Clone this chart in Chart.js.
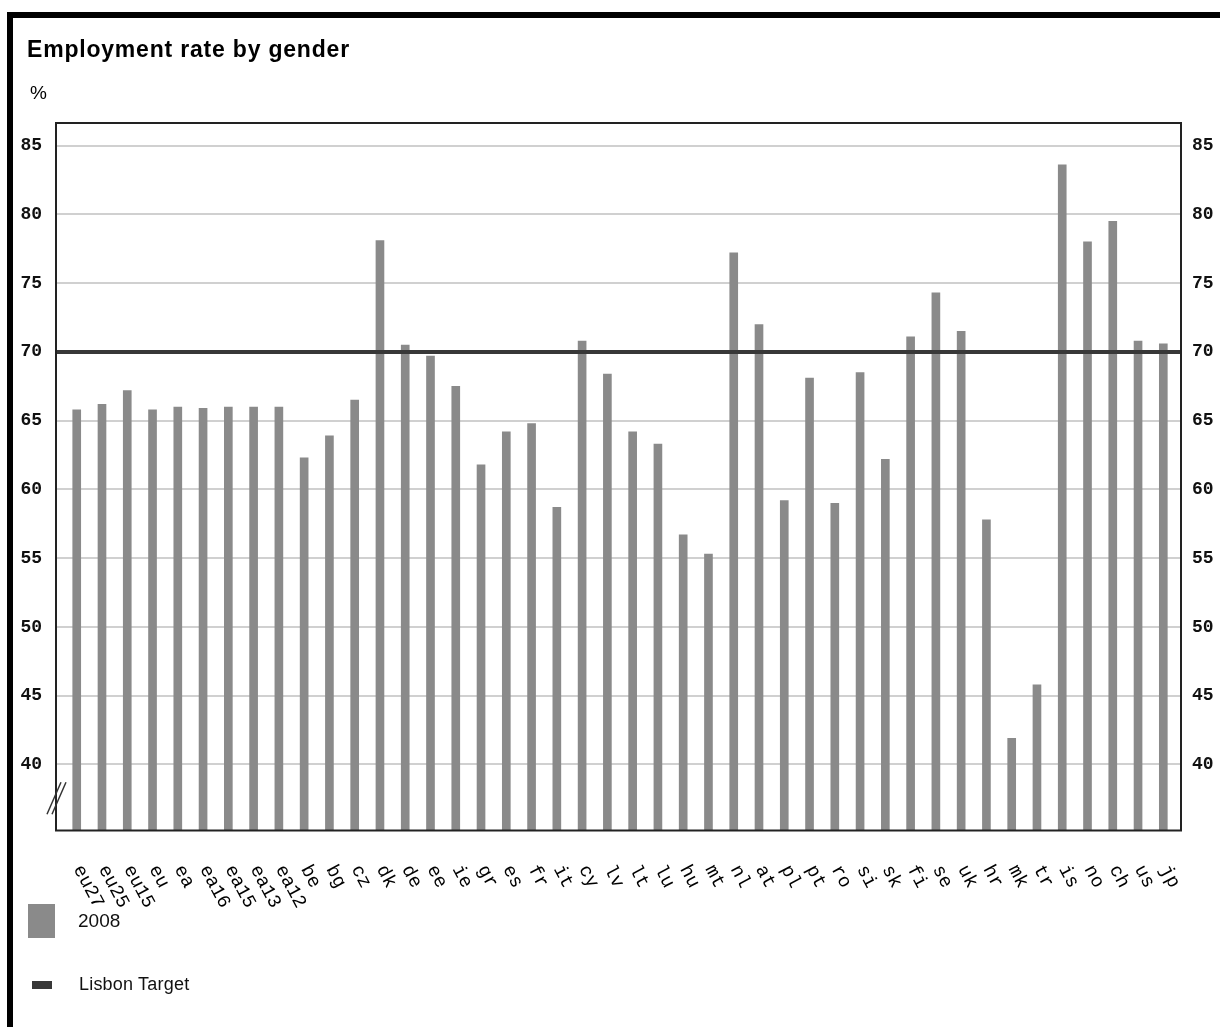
<!DOCTYPE html>
<html><head><meta charset="utf-8">
<script src="https://cdn.jsdelivr.net/npm/chart.js@4.4.0/dist/chart.umd.min.js"></script>
<style>
html,body{margin:0;padding:0;background:#fff;}
#wrap{position:relative;width:1220px;height:1027px;overflow:hidden;background:#fff;}
#frameTop{position:absolute;left:7px;top:12px;width:1213px;height:6px;background:#000;}
#frameLeft{position:absolute;left:7px;top:12px;width:6px;height:1015px;background:#000;}
canvas{position:absolute;left:0;top:0;}
.t{position:absolute;white-space:nowrap;font-family:"Liberation Sans",Arial,sans-serif;color:#000;}
.sw{position:absolute;}
</style></head><body>
<div id="wrap">
<canvas id="c" width="1220" height="1027" style="width:1220px;height:1027px"></canvas>
<div id="frameTop"></div><div id="frameLeft"></div>
<div class="t" style="left:27px;top:38px;font-size:23px;line-height:23px;font-weight:bold;letter-spacing:0.8px;">Employment rate by gender</div>
<div class="t" style="left:30px;top:83px;font-size:19px;line-height:19px;">%</div>
<div id="legend"></div>
</div>
<script>
const categories = ["eu27","eu25","eu15","eu","ea","ea16","ea15","ea13","ea12","be","bg","cz","dk","de","ee","ie","gr","es","fr","it","cy","lv","lt","lu","hu","mt","nl","at","pl","pt","ro","si","sk","fi","se","uk","hr","mk","tr","is","no","ch","us","jp"];
const values2008 = [65.8,66.2,67.2,65.8,66.0,65.9,66.0,66.0,66.0,62.3,63.9,66.5,78.1,70.5,69.7,67.5,61.8,64.2,64.8,58.7,70.8,68.4,64.2,63.3,56.7,55.3,77.2,72.0,59.2,68.1,59.0,68.5,62.2,71.1,74.3,71.5,57.8,41.9,45.8,83.6,78.0,79.5,70.8,70.6];
const lisbonTarget = 70;
const yTickValues = [40,45,50,55,60,65,70,75,80,85];
const seriesLabels = ["2008","Lisbon Target"];
const yMin = 35.2, yMax = 86.65;
const xMin = -0.82, xMax = 43.7;
const breakValue = 37.55;

const barColor = '#8a8a8a';
const lineColor = '#383838';

const frameAndLabels = {
  id: 'frameAndLabels',
  afterDatasetsDraw(chart) {
    const {ctx, chartArea: a, scales} = chart;
    ctx.save();
    ctx.strokeStyle = '#222';
    ctx.lineWidth = 2;
    ctx.strokeRect(a.left, a.top, a.right - a.left, a.bottom - a.top);
    // axis break marks
    const yb = scales.y.getPixelForValue(breakValue);
    const cx = a.left + 0.5;
    ctx.strokeStyle = '#333';
    ctx.lineWidth = 1.5;
    for (const off of [-2.5, 2.5]) {
      ctx.beginPath();
      ctx.moveTo(cx - 7 + off, yb + 16);
      ctx.lineTo(cx + 7 + off, yb - 16);
      ctx.stroke();
    }
    ctx.restore();
  },
  afterDraw(chart) {
    const {ctx, chartArea: a, scales} = chart;
    ctx.save();
    ctx.font = '19px "Liberation Mono", "Courier New", monospace';
    ctx.fillStyle = '#000';
    ctx.textAlign = 'left';
    ctx.textBaseline = 'middle';
    categories.forEach((c, i) => {
      const x = scales.x.getPixelForValue(i);
      ctx.save();
      ctx.translate(x + 1, a.bottom + 36);
      ctx.rotate(62 * Math.PI / 180);
      ctx.fillText(c, 0, 0);
      ctx.restore();
    });
    ctx.restore();
  }
};

const tickFont = {family: '"Liberation Mono", "Courier New", monospace', size: 18, weight: 'bold'};

const chart = new Chart(document.getElementById('c'), {
  type: 'bar',
  data: {
    datasets: [
      {
        type: 'line',
        label: seriesLabels[1],
        data: [{x: xMin, y: lisbonTarget}, {x: xMax, y: lisbonTarget}],
        borderColor: lineColor,
        backgroundColor: lineColor,
        borderWidth: 4,
        pointRadius: 0,
        order: 1
      },
      {
        type: 'bar',
        label: seriesLabels[0],
        data: categories.map((c, i) => ({x: i, y: values2008[i]})),
        backgroundColor: barColor,
        barThickness: 8,
        order: 2
      }
    ]
  },
  options: {
    responsive: false,
    animation: false,
    devicePixelRatio: 1,
    layout: {padding: {top: 123, bottom: 196.5, left: 0, right: 0}},
    plugins: {legend: {display: false}, tooltip: {enabled: false}, title: {display: false}},
    scales: {
      x: {type: 'linear', min: xMin, max: xMax, offset: false, display: false},
      y: {
        type: 'linear', position: 'left', min: yMin, max: yMax, beginAtZero: false,
        afterBuildTicks: s => { s.ticks = yTickValues.map(v => ({value: v})); },
        afterFit: s => { s.width = 56; },
        grid: {color: '#d0d0d0', lineWidth: 2, drawTicks: false},
        border: {display: false},
        ticks: {font: tickFont, color: '#111', padding: 14}
      },
      y2: {
        type: 'linear', position: 'right', min: yMin, max: yMax, beginAtZero: false,
        afterBuildTicks: s => { s.ticks = yTickValues.map(v => ({value: v})); },
        afterFit: s => { s.width = 39; },
        grid: {display: false, drawTicks: false},
        border: {display: false},
        ticks: {font: tickFont, color: '#111', padding: 11}
      }
    }
  },
  plugins: [frameAndLabels]
});

// HTML legend built from the datasets
(function buildLegend() {
  const lg = document.getElementById('legend');
  const bar = chart.data.datasets.find(d => d.type === 'bar');
  const line = chart.data.datasets.find(d => d.type === 'line');
  lg.innerHTML =
    '<div class="sw" style="left:28px;top:904px;width:27px;height:34px;background:' + bar.backgroundColor + '"></div>' +
    '<div class="t" style="left:78px;top:911px;font-size:19px;line-height:19px;color:#111">' + bar.label + '</div>' +
    '<div class="sw" style="left:32px;top:981px;width:20px;height:8px;background:' + line.borderColor + '"></div>' +
    '<div class="t" style="left:79px;top:975px;font-size:18px;line-height:18px;color:#111;letter-spacing:0.2px">' + line.label + '</div>';
})();
</script>
</body></html>
